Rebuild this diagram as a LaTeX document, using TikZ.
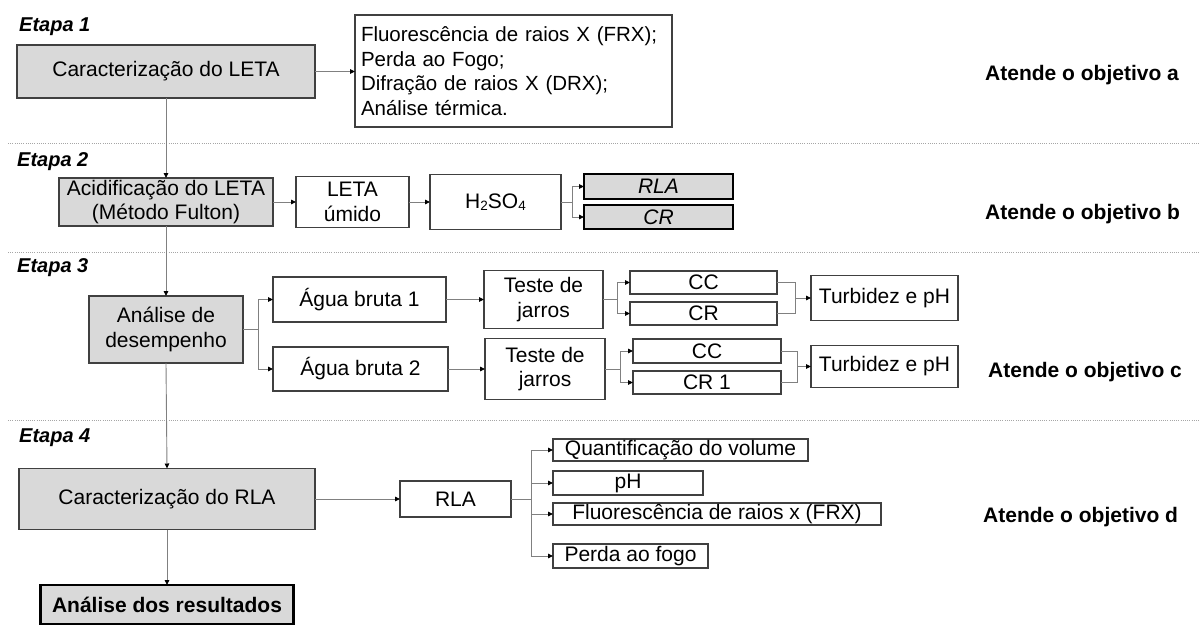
\documentclass[tikz,border=0pt]{standalone}
\usepackage{fontspec}
\setmainfont{Liberation Sans}
\usetikzlibrary{arrows.meta}
\definecolor{grayf}{HTML}{D9D9D9}
\definecolor{boxc}{HTML}{404040}
\definecolor{linec}{HTML}{808080}
\newcommand\fsz{\fontsize{21}{24.5}\selectfont}
\newcommand\fsl{\fontsize{20.5}{24.5}\selectfont}
\newcommand\subn[1]{{\fontsize{13.5}{13.5}\selectfont\raisebox{-1.5pt}{#1}}}
\begin{document}
\begin{tikzpicture}[x=1pt,y=-1pt,
 box/.style={draw=boxc,line width=1.1pt,fill=white,inner sep=0pt,outer sep=0pt,font=\fsz},
 gbox/.style={box,fill=grayf},
 tbox/.style={box,fill=grayf,draw=black,line width=2.6pt},
 conn/.style={draw=linec,line width=0.9pt},
 arr/.style={conn,-{Triangle[length=5pt,width=4.5pt,color=black]}},
 etapa/.style={anchor=west,inner sep=0pt,font=\fontsize{20}{20}\selectfont\bfseries\itshape},
 obj/.style={anchor=west,inner sep=0pt,font=\fontsize{21}{21}\selectfont\bfseries},
 sep/.style={draw=gray!70,line width=0.8pt,dash pattern=on 1pt off 1.2pt}]
\useasboundingbox (0,0) rectangle (1199,632);
% separators
\draw[sep] (8,143) -- (1199,143);
\draw[sep] (8,252) -- (1199,252);
\draw[sep] (8,420) -- (1199,420);
% Etapa 1
\node[etapa] (e1) at (19,27) {Etapa 1};
\node[gbox,minimum width=298pt,minimum height=53pt] (letaC) at (166,71.5) {Caracterização do LETA};
\node[box,anchor=west,text width=305pt,inner xsep=6pt,minimum height=112pt,align=left,font=\fsl] (lista) at (355,71) {Fluorescência de raios X (FRX);\\Perda ao Fogo;\\Difração de raios X (DRX);\\Análise térmica.};
\node[obj] (oa) at (985,75) {Atende o objetivo a};
% Etapa 2
\node[etapa] (e2) at (17,162) {Etapa 2};
\node[gbox,align=center,minimum width=214pt,minimum height=48pt] (acid) at (166,202) {Acidificação do LETA\\(Método Fulton)};
\node[box,align=center,minimum width=113pt,minimum height=51pt] (umido) at (352.5,202) {LETA\\úmido};
\node[box,minimum width=131pt,minimum height=55pt] (h2so4) at (495.5,202) {H\subn{2}SO\subn{4}};
\node[tbox,minimum width=149pt,minimum height=25pt,font=\fsz\itshape] (rla2) at (658.5,186.5) {RLA};
\node[tbox,minimum width=149pt,minimum height=24pt,font=\fsz\itshape] (cr2) at (658.5,217) {CR};
\node[obj] (ob) at (985,214) {Atende o objetivo b};
% Etapa 3
\node[etapa] (e3) at (17,268) {Etapa 3};
\node[gbox,align=center,minimum width=154pt,minimum height=67pt] (anal) at (166,329.5) {Análise de\\desempenho};
\node[box,minimum width=173pt,minimum height=45pt] (agua1) at (359.5,299.5) {Água bruta 1};
\node[box,minimum width=175pt,minimum height=44pt] (agua2) at (360.5,369) {Água bruta 2};
\node[box,align=center,minimum width=119pt,minimum height=58pt] (teste1) at (543.5,299.5) {Teste de\\jarros};
\node[box,align=center,minimum width=120pt,minimum height=61pt] (teste2) at (545,369) {Teste de\\jarros};
\node[box,minimum width=147pt,minimum height=23pt] (cc1) at (703.5,282.5) {CC};
\node[box,minimum width=147pt,minimum height=23pt] (cr1) at (703.5,313.5) {CR};
\node[box,minimum width=148pt,minimum height=24pt] (cc2) at (707,351) {CC};
\node[box,minimum width=148pt,minimum height=23pt] (cr1b) at (707,382.5) {CR 1};
\node[box,minimum width=147pt,minimum height=45pt] (turb1) at (884.5,298) {Turbidez e pH};
\node[box,minimum width=147pt,minimum height=42pt] (turb2) at (884.5,366.5) {Turbidez e pH};
\node[obj] (oc) at (988,372) {Atende o objetivo c};
% Etapa 4
\node[etapa] (e4) at (19,438) {Etapa 4};
\node[gbox,minimum width=296pt,minimum height=61pt] (caract) at (167,499) {Caracterização do RLA};
\node[box,minimum width=111pt,minimum height=36pt] (rla4) at (455.5,499) {RLA};
\node[box,minimum width=255pt,minimum height=22pt] (quant) at (680.5,450) {Quantificação do volume};
\node[box,minimum width=150pt,minimum height=24pt] (ph4) at (628,483) {pH};
\node[box,minimum width=328pt,minimum height=22pt] (frx4) at (717,514) {Fluorescência de raios x (FRX)};
\node[box,minimum width=155pt,minimum height=24pt] (perda) at (630.5,556) {Perda ao fogo};
\node[obj] (od) at (983,517) {Atende o objetivo d};
\node[tbox,minimum width=253pt,minimum height=39pt,font=\fsz\bfseries] (res) at (167,604.5) {Análise dos resultados};
% connectors
\draw[arr] (letaC.east) -- (lista.west |- letaC.east);
\draw[arr] (letaC.south) -- (acid.north);
\draw[arr] (acid.east) -- (umido.west);
\draw[arr] (umido.east) -- (h2so4.west);
\coordinate (b2) at (572,202);
\draw[conn] (h2so4.east) -- (b2);
\draw[arr] (b2) |- (rla2.west);
\draw[arr] (b2) |- (cr2.west);
\draw[arr] (acid.south) -- (anal.north);
\coordinate (b3) at (258,329.5);
\draw[conn] (anal.east) -- (b3);
\draw[arr] (b3) |- (agua1.west);
\draw[arr] (b3) |- (agua2.west);
\draw[arr] (agua1.east) -- (teste1.west);
\draw[arr] (agua2.east) -- (teste2.west);
\coordinate (b5) at (617,299.5);
\draw[conn] (teste1.east) -- (b5);
\draw[arr] (b5) |- (cc1.west);
\draw[arr] (b5) |- (cr1.west);
\coordinate (b6) at (620,369);
\draw[conn] (teste2.east) -- (b6);
\draw[arr] (b6) |- (cc2.west);
\draw[arr] (b6) |- (cr1b.west);
\coordinate (m1) at (795,298);
\draw[conn] (cc1.east) -| (m1) |- (cr1.east);
\draw[arr] (m1) -- (turb1.west);
\coordinate (m2) at (797,366.5);
\draw[conn] (cc2.east) -| (m2) |- (cr1b.east);
\draw[arr] (m2) -- (turb2.west);
\draw[arr] (anal.south) -- (caract.north);
\draw[arr] (caract.east) -- (rla4.west);
\coordinate (b4) at (531,499);
\draw[conn] (rla4.east) -- (b4);
\draw[arr] (b4) |- (quant.west);
\draw[arr] (b4) |- (ph4.west);
\draw[arr] (b4) |- (frx4.west);
\draw[arr] (b4) |- (perda.west);
\draw[arr] (caract.south) -- (res.north);
\end{tikzpicture}
\end{document}
